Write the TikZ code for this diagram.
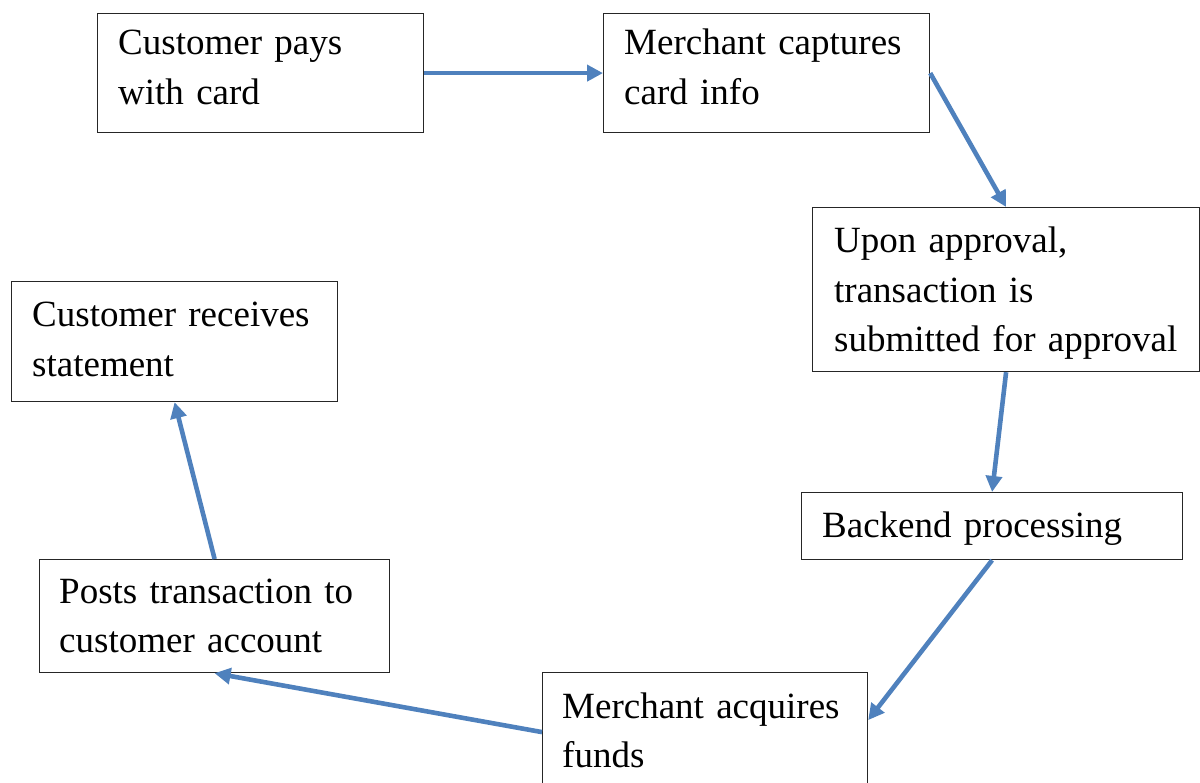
\documentclass[tikz,border=0pt]{standalone}
\usepackage{fontspec}
\setmainfont{Liberation Serif}
\usetikzlibrary{arrows.meta}
\definecolor{flowblue}{HTML}{4F81BD}
\begin{document}
\begin{tikzpicture}[x=1pt,y=-1pt,
  stepbox/.style={draw=black!85, line width=1.2pt, inner sep=0pt, anchor=north west},
  steptext/.style={inner sep=0pt, anchor=base west, text width=420pt, align=left,
    font=\fontsize{37}{49.5}\selectfont},
  flow/.style={draw=flowblue, line width=4.6pt, -{Triangle[length=16pt,width=16pt]}}]
\useasboundingbox (0,0) rectangle (1200,783);

% boxes of the payment cycle
\node[stepbox, minimum width=326pt, minimum height=119pt] (b1) at (97,13) {};
\node[stepbox, minimum width=326pt, minimum height=119pt] (b2) at (603,13) {};
\node[stepbox, minimum width=387pt, minimum height=164pt] (b3) at (812,207) {};
\node[stepbox, minimum width=381pt, minimum height=67pt] (b4) at (801,492) {};
\node[stepbox, minimum width=325pt, minimum height=119pt] (b5) at (542,672) {};
\node[stepbox, minimum width=350pt, minimum height=113pt] (b6) at (39,559) {};
\node[stepbox, minimum width=326pt, minimum height=120pt] (b7) at (11,281) {};

% labels, placed on the baseline of their first line
\node[steptext] (t1) at (118,55) {Customer pays\\with card};
\node[steptext] (t2) at (624,55) {Merchant captures\\card info};
\node[steptext] (t3) at (834,253) {Upon approval,\\transaction is\\submitted for approval};
\node[steptext] (t4) at (822,537) {Backend processing};
\node[steptext] (t5) at (562,718) {Merchant acquires\\funds};
\node[steptext] (t6) at (59,603) {Posts transaction to\\customer account};
\node[steptext] (t7) at (32,327) {Customer receives\\statement};

% flow arrows
\draw[flow] (b1.east) -- (b2.west);
\draw[flow] (b2.east) -- (b3.north);
\draw[flow] (b3.south) -- (b4.north);
\draw[flow] (b4.south) -- ([yshift=12pt]b5.east);
\draw[flow] (b5.west) -- (b6.south);
\draw[flow] (b6.north) -- (b7.south);
\end{tikzpicture}
\end{document}
